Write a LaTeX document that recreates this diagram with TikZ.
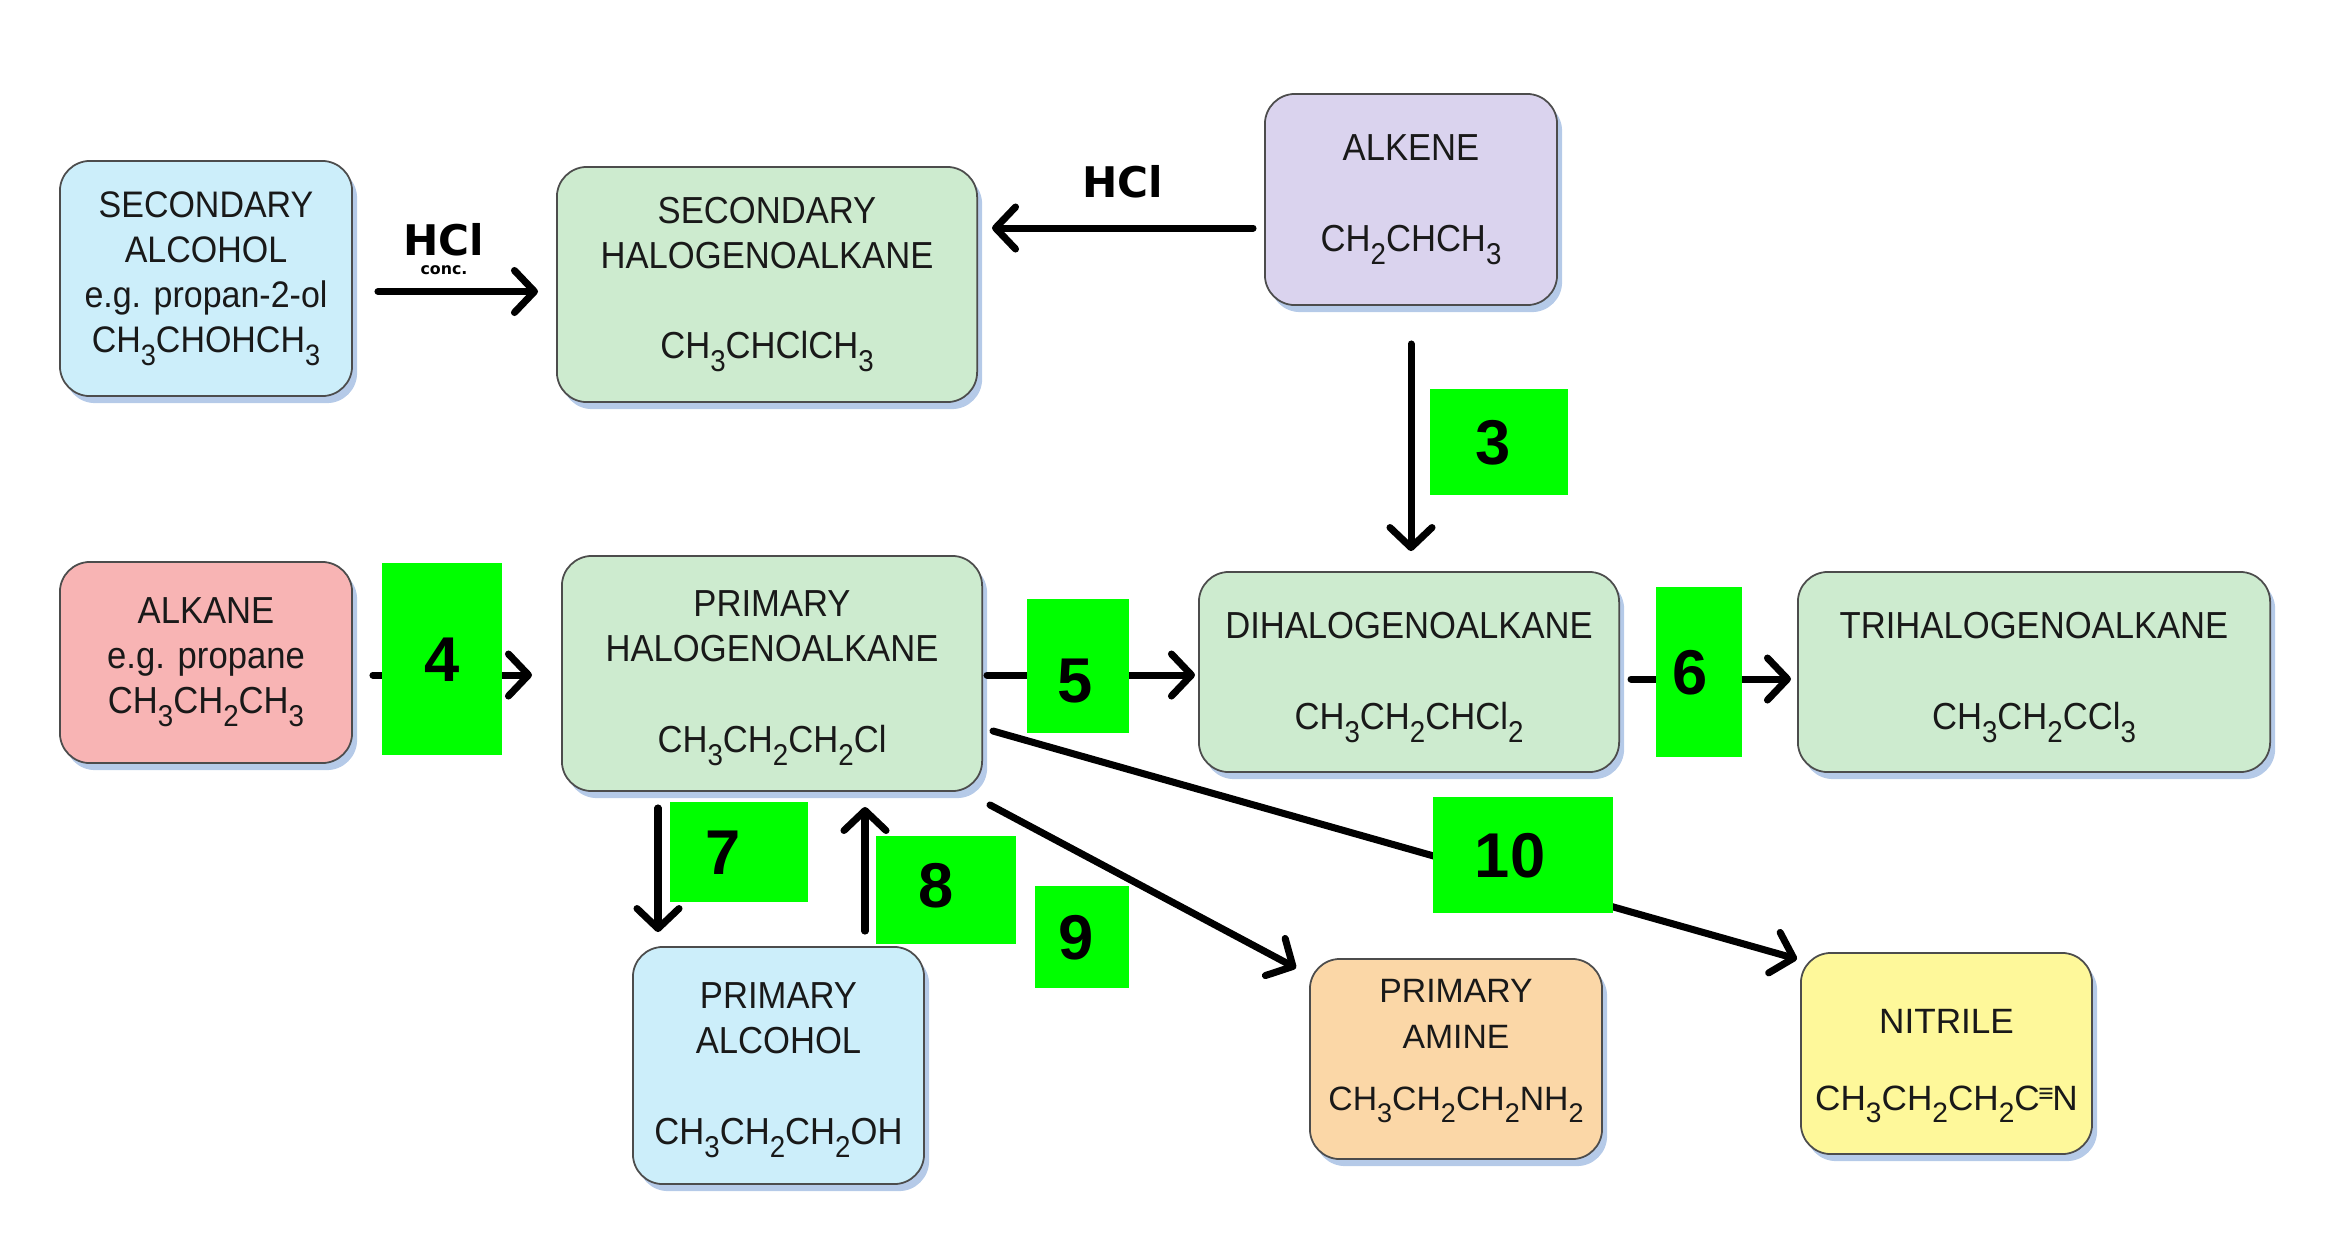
\documentclass[tikz,border=0pt]{standalone}
\usepackage{fontspec}
\setmainfont{Liberation Sans}[FakeStretch=0.92]
\newfontfamily\plainsans{Liberation Sans}
\newfontfamily\tagfont{Liberation Sans}
\newfontfamily\hclfont{DejaVu Sans}
\usetikzlibrary{arrows.meta,shadows}

\definecolor{alcblue}{RGB}{204,238,250}
\definecolor{halgreen}{RGB}{205,235,207}
\definecolor{alkpurple}{RGB}{218,211,238}
\definecolor{alkpink}{RGB}{248,180,180}
\definecolor{amorange}{RGB}{251,215,167}
\definecolor{nityellow}{RGB}{254,248,154}
\definecolor{taggreen}{RGB}{0,255,0}
\definecolor{shadowblue}{RGB}{150,180,222}

% subscript for formulas
\newcommand\chsub[1]{\raisebox{-0.35em}{\scalebox{0.8}{#1}}}

\begin{document}
\begin{tikzpicture}[x=0.01cm,y=-0.01cm,
    box/.style={draw=black!70,line width=0.5pt,rounded corners=0.3cm,align=center,
      text=black!90,font=\fontsize{10.7}{12.8}\selectfont,
      drop shadow={shadow xshift=0.05cm,shadow yshift=-0.07cm,fill=shadowblue,opacity=0.7}},
    tag/.style={fill=taggreen,inner sep=0pt,text height=0.45cm,text depth=0pt,
      font=\tagfont\bfseries\fontsize{18}{18}\selectfont},
    arr/.style={line width=2pt,line cap=round,-{Straight Barb[length=0.2cm,width=0.42cm,round]}},
    hcl/.style={font=\hclfont\bfseries\fontsize{12}{12}\selectfont}]
  \useasboundingbox (0,0) rectangle (2336,1244);

  % compounds
  \node[box,fill=alcblue,minimum width=2.92cm,minimum height=2.35cm,
    font=\fontsize{10.5}{12.8}\selectfont] (salc) at (206,278.5)
    {SECONDARY\\ALCOHOL\\e.g. propan-2-ol\\CH\chsub{3}CHOHCH\chsub{3}};
  \node[box,fill=halgreen,minimum width=4.2cm,minimum height=2.35cm] (shal) at (767,284.5)
    {SECONDARY\\HALOGENOALKANE\\[13pt]CH\chsub{3}CHClCH\chsub{3}};
  \node[box,fill=alkpurple,minimum width=2.92cm,minimum height=2.11cm] (alkene) at (1411,199.5)
    {ALKENE\\[13pt]CH\chsub{2}CHCH\chsub{3}};
  \node[box,fill=alkpink,minimum width=2.92cm,minimum height=2.01cm] (alkane) at (206,662.5)
    {ALKANE\\e.g. propane\\CH\chsub{3}CH\chsub{2}CH\chsub{3}};
  \node[box,fill=halgreen,minimum width=4.2cm,minimum height=2.35cm] (phal) at (772,673.5)
    {\rule{0pt}{10pt}PRIMARY\\HALOGENOALKANE\\[13pt]CH\chsub{3}CH\chsub{2}CH\chsub{2}Cl};
  \node[box,fill=halgreen,minimum width=4.2cm,minimum height=2.0cm] (dihal) at (1409,672)
    {\rule{0pt}{10.5pt}DIHALOGENOALKANE\\[13pt]CH\chsub{3}CH\chsub{2}CHCl\chsub{2}};
  \node[box,fill=halgreen,minimum width=4.72cm,minimum height=2.0cm] (trihal) at (2034,672)
    {\rule{0pt}{10.5pt}TRIHALOGENOALKANE\\[13pt]CH\chsub{3}CH\chsub{2}CCl\chsub{3}};
  \node[box,fill=alcblue,minimum width=2.91cm,minimum height=2.37cm] (palc) at (778.5,1065.5)
    {\rule{0pt}{10pt}PRIMARY\\ALCOHOL\\[13pt]CH\chsub{3}CH\chsub{2}CH\chsub{2}OH};
  \node[box,fill=amorange,minimum width=2.92cm,minimum height=2.0cm,
    font=\plainsans\fontsize{9.6}{13}\selectfont] (amine) at (1456,1059)
    {PRIMARY\\AMINE\\[4.7pt]CH\chsub{3}CH\chsub{2}CH\chsub{2}NH\chsub{2}\rule[-8pt]{0pt}{8pt}};
  \node[box,fill=nityellow,minimum width=2.91cm,minimum height=2.01cm,
    font=\plainsans\fontsize{10}{12}\selectfont] (nitrile) at (1946.5,1053.5)
    {\rule{0pt}{14pt}NITRILE\\[10pt]CH\chsub{3}CH\chsub{2}CH\chsub{2}C\kern-0.04em\raisebox{0.22em}{\fontsize{7.5}{7.5}\selectfont\bfseries ≡}\kern-0.04em N};

  % reactions
  \draw[arr] ([shift={(25,13)}]salc.east) -- ([shift={(-18,7)}]shal.west);
  \node[hcl] (hcl1) at (444,240) {HCl};
  \node[font=\hclfont\bfseries\fontsize{4.5}{5}\selectfont] (conc1) at (444,270) {conc.};
  \draw[arr] ([shift={(-11,28.5)}]alkene.west) -- ([shift={(14,-56.5)}]shal.east);
  \node[hcl] (hcl2) at (1123,182) {HCl};
  \draw[arr,shorten <=0.38cm,shorten >=0.2cm] (alkene.south) -- (alkene.south |- dihal.north);
  \draw[arr] ([shift={(20,12.5)}]alkane.east) -- ([shift={(-29,1.5)}]phal.west);
  \draw[arr] ([shift={(4,1.5)}]phal.east) -- ([shift={(-3,3)}]dihal.west);
  \draw[arr] ([shift={(11,7)}]dihal.east) -- ([shift={(-6,7)}]trihal.west);
  \draw[arr] ([shift={(-114,16)}]phal.south) -- ([shift={(-120.5,-14)}]palc.north);
  \draw[arr] ([shift={(86.5,-15)}]palc.north) -- ([shift={(93,15)}]phal.south);
  \draw[arr] ([shift={(7,13)}]phal.south east) -- ([shift={(-13,10)}]amine.north west);
  \draw[arr] ([shift={(10,57.5)}]phal.east) -- ([shift={(-3,7)}]nitrile.north west);

  % step numbers (\dx: doubled text offset, \dy: drop of the digit)
  \foreach \n/\x/\y/\w/\h/\dx/\dy in {3/1499/442/1.37/1.06/-0.12/0,4/442/659/1.19/1.92/0/0,
      5/1078/666/1.01/1.33/-0.06/0.14,6/1699/672/0.85/1.70/-0.18/0,7/739/852/1.38/1.00/-0.32/0,
      8/946/890/1.40/1.08/-0.2/-0.05,9/1082/937/0.94/1.02/-0.12/0,10/1523/855/1.80/1.16/-0.26/0}
    \node[tag,minimum width=\w cm,minimum height=\h cm] (t\n) at (\x,\y)
      {\makebox[0pt]{\hspace*{\dx cm}\raisebox{-\dy cm}{\n}}};
\end{tikzpicture}
\end{document}
